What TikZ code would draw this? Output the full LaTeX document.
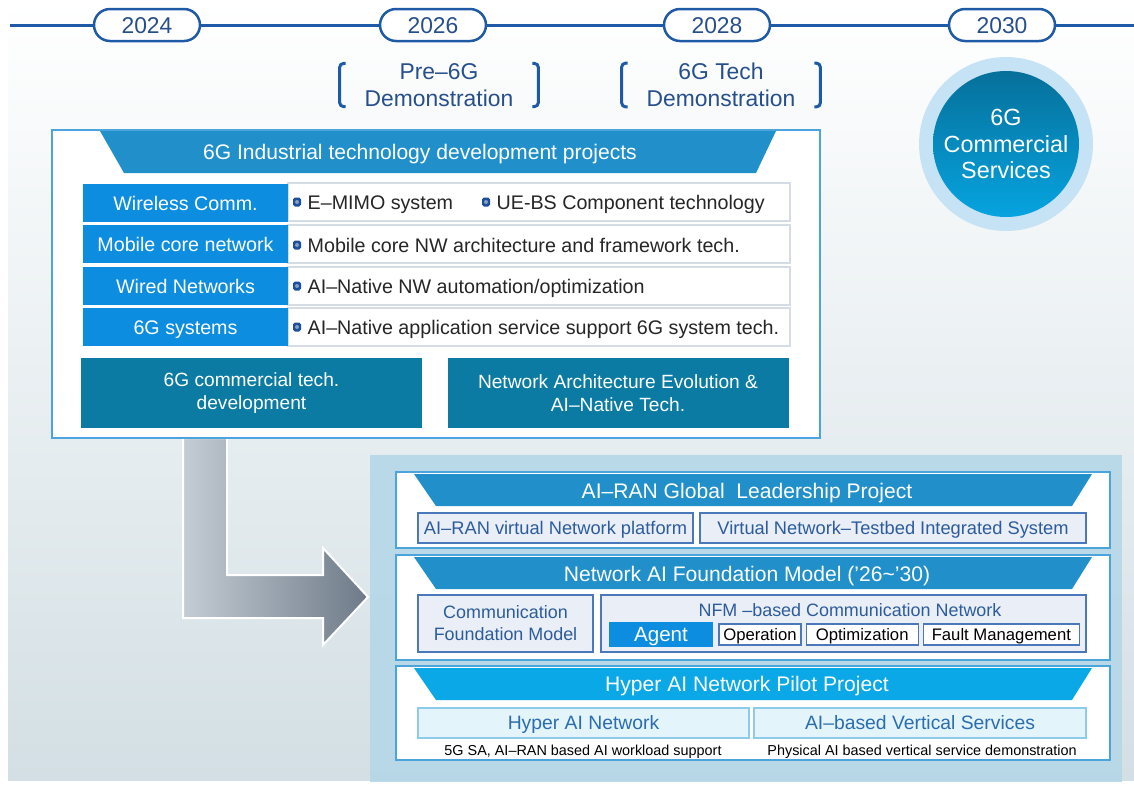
\documentclass[tikz,border=0pt]{standalone}
\usepackage{fontspec}
\setmainfont{Liberation Sans}
\usepackage{tikz}
\usetikzlibrary{positioning}
\definecolor{tlblue}{HTML}{1F5AA6}
\definecolor{yeartext}{HTML}{264F8C}
\definecolor{hdrblue}{HTML}{2190CA}
\definecolor{hdrcyan}{HTML}{0AA8E6}
\definecolor{lblblue}{HTML}{0C8DE0}
\definecolor{tealbox}{HTML}{0B7BA3}
\definecolor{panelline}{HTML}{4CA4DC}
\definecolor{subfill}{HTML}{E9EEF7}
\definecolor{subline}{HTML}{4A78BA}
\definecolor{subtext}{HTML}{2C5C9C}
\definecolor{hypfill}{HTML}{E3F4FB}
\definecolor{hypline}{HTML}{8CCBEA}
\definecolor{hyptext}{HTML}{2A6DB0}
\definecolor{bulblue}{HTML}{1D4F9C}
\definecolor{bgmid}{HTML}{EDF1F3}
\definecolor{bgbottom}{HTML}{D3DFE4}
\definecolor{lowbg}{HTML}{B5D7E8}
\definecolor{halo}{HTML}{C6E2F5}
\definecolor{svctop}{HTML}{06709A}
\definecolor{svcbot}{HTML}{06A4E0}
\definecolor{arrowl}{HTML}{C4CCD4}
\definecolor{arrowr}{HTML}{6E7A88}
\definecolor{cellline}{HTML}{D6DCE3}
\newdimen\px \px=0.2mm
\newcommand{\fsz}[2]{\fontsize{#1}{#2}\selectfont}

\begin{document}
\begin{tikzpicture}[x=0.2mm, y=-0.2mm,
    year/.style={draw=tlblue, line width=2.5\px, fill=white, rounded corners=16\px,
        minimum width=106\px, minimum height=32\px, inner sep=0pt, text=yeartext, font=\fsz{13}{15},
        text height=9.3pt, text depth=0pt},
    mile/.style={align=center, text=yeartext, font=\fsz{13}{15}, minimum width=198\px,
        minimum height=39\px, inner sep=0pt},
    brk/.style={tlblue, line width=3\px, rounded corners=4\px},
    tline/.style={tlblue, line width=3\px},
    panel/.style={draw=panelline, line width=2\px, fill=white, inner sep=0pt},
    hdr/.style={text=white, font=\fsz{12}{14}, inner sep=0pt, text height=8.6pt, text depth=0pt},
    lbl/.style={fill=lblblue, text=white, font=\fsz{11.2}{13}, minimum width=205\px,
        minimum height=38\px, inner sep=0pt, text height=8pt, text depth=0pt},
    cell/.style={draw=cellline, line width=1.5\px, fill=white, minimum width=502\px,
        minimum height=38\px, inner sep=0pt},
    bul/.style={fill=bulblue, rounded corners=1.8\px, minimum width=8\px, minimum height=9\px,
        inner sep=0pt, path picture={\fill[white!45!bulblue] (path picture bounding box.center) circle (2\px);}},
    item/.style={font=\fsz{11.2}{13}, text=black!85, inner sep=0pt, anchor=west,
        text height=8pt, text depth=0pt},
    teal/.style={fill=tealbox, text=white, align=center, font=\fsz{10.9}{13}, minimum width=341\px,
        minimum height=70\px, inner sep=0pt},
    box/.style={draw=panelline, line width=1.5\px, fill=white, minimum width=714\px, inner sep=0pt},
    sub/.style={draw=subline, line width=1.5\px, fill=subfill, text=subtext, inner sep=0pt,
        minimum height=30\px, font=\fsz{10.4}{12.5}, text height=7.45pt, text depth=0pt},
    hyp/.style={draw=hypline, line width=1.5\px, fill=hypfill, text=hyptext, inner sep=0pt,
        minimum height=30\px, font=\fsz{11}{13}, text height=7.9pt, text depth=0pt},
    tag/.style={draw=subline, line width=1.2\px, fill=white, text=black, inner sep=0pt,
        minimum height=21\px, font=\fsz{9.5}{11}, text height=6.8pt, text depth=0pt},
    capt/.style={font=\fsz{8.2}{10}, text=black, inner sep=0pt, text height=5.9pt, text depth=0pt}]

    \useasboundingbox (0,0) rectangle (1134,787);
    % background
    \fill[top color=white, middle color=bgmid, bottom color=bgbottom] (8,0) rectangle (1134,780);
    \fill[lowbg, opacity=0.9] (370,455) rectangle (1122,782);

    % timeline
    \coordinate (tl0) at (10,25);
    \coordinate (tl1) at (1134,25);
    \node[year] (y24) at (147,25) {2024};
    \node[year] (y26) at (433,25) {2026};
    \node[year] (y28) at (717,25) {2028};
    \node[year] (y30) at (1002,25) {2030};
    \draw[tline] (tl0) -- (y24) -- (y26) -- (y28) -- (y30) -- (tl1);

    % milestones
    \node[mile] (pre) at (439,85) {Pre–6G\\Demonstration};
    \node[mile] (tech) at (721,85) {6G Tech\\Demonstration};
    \foreach \m in {pre,tech} {
        \draw[brk] ([xshift=6\px]\m.north west) -- (\m.north west) -- (\m.south west) -- ([xshift=6\px]\m.south west);
        \draw[brk] ([xshift=-6\px]\m.north east) -- (\m.north east) -- (\m.south east) -- ([xshift=-6\px]\m.south east);
    }

    % 6G commercial services
    \node[circle, fill=halo, minimum size=174\px, inner sep=0pt] (halo) at (1006,144) {};
    \node[circle, top color=svctop, bottom color=svcbot, minimum size=146\px, inner sep=0pt,
        text=white, align=center, font=\fsz{13.3}{15.3}] (svc) at (1006,144) {6G\\Commercial\\Services};

    % arrow
    \path[draw=white, line width=2\px, left color=arrowl, right color=arrowr]
        (183,438) -- (227,438) -- (227,575) -- (323,575) -- (323,548) -- (368,597)
        -- (323,645) -- (323,618) -- (183,618) -- cycle;

    % industrial projects
    \node[panel, minimum width=768\px, minimum height=308\px] (ind) at (436,284) {};
    \fill[hdrblue] (100,131) -- (776,131) -- (756,173) -- (124,173) -- cycle;
    \node[hdr] (indh) at (420,152) {6G Industrial technology development projects};

    \node[cell] (c1) at (539,202) {};
    \node[lbl] (l1) at (185.5,203) {Wireless Comm.};
    \node[bul] (b1) at (297,202) {};
    \node[item, right=6\px of b1] (t1) {E–MIMO system};
    \node[bul] (b1b) at (486,202) {};
    \node[item, right=6\px of b1b] (t1b) {UE-BS Component technology};

    \node[cell] (c2) at (539,244) {};
    \node[lbl] (l2) at (185.5,244) {Mobile core network};
    \node[bul] (b2) at (297,245) {};
    \node[item, right=6\px of b2] (t2) {Mobile core NW architecture and framework tech.};

    \node[cell] (c3) at (539,286) {};
    \node[lbl] (l3) at (185.5,286) {Wired Networks};
    \node[bul] (b3) at (297,286) {};
    \node[item, right=6\px of b3] (t3) {AI–Native NW automation/optimization};

    \node[cell] (c4) at (539,327) {};
    \node[lbl] (l4) at (185.5,327) {6G systems};
    \node[bul] (b4) at (297,327) {};
    \node[item, right=6\px of b4] (t4) {AI–Native application service support 6G system tech.};

    \node[teal] (com) at (251.5,393) {6G commercial tech.\\development};
    \node[teal] (arch) at (618,393) {Network Architecture Evolution \&\\AI–Native Tech.};

    % AI-RAN global leadership
    \node[box, minimum height=76\px] (ran) at (753,510) {};
    \fill[hdrblue] (414,474) -- (1092,474) -- (1072,506) -- (436,506) -- cycle;
    \node[hdr] (ranh) at (747,491) {AI–RAN Global~ Leadership Project};
    \node[sub, minimum width=275\px] (vnp) at (555.5,528) {AI–RAN virtual Network platform};
    \node[sub, minimum width=386\px] (vts) at (893,528) {Virtual Network–Testbed Integrated System};

    % network AI foundation model
    \node[box, minimum height=105\px] (nfm) at (753,607.5) {};
    \fill[hdrblue] (414,557) -- (1092,557) -- (1072,589) -- (436,589) -- cycle;
    \node[hdr] (nfmh) at (747,574) {Network AI Foundation Model (’26\textasciitilde’30)};
    \node[sub, minimum width=175\px, minimum height=57\px, align=center, font=\fsz{10.2}{12.5},
        text height=, text depth=] (cfm) at (505.5,623.5) {Communication\\Foundation Model};
    \node[sub, minimum width=485\px, minimum height=57\px] (ncn) at (843.5,623.5) {};
    \node[text=subtext, font=\fsz{10.2}{12}, inner sep=0pt, text height=7.3pt, text depth=0pt]
        (ncnt) at (850,610) {NFM –based Communication Network};
    \node[fill=lblblue, text=white, font=\fsz{11.7}{13}, minimum width=104\px, minimum height=25\px,
        inner sep=0pt, text height=8.4pt, text depth=0pt] (agent) at (661,634.5) {Agent};
    \node[tag, minimum width=82\px, right=5\px of agent] (op) {Operation};
    \node[tag, minimum width=112\px, right=4\px of op] (opt) {Optimization};
    \node[tag, minimum width=156\px, right=4\px of opt] (fault) {Fault Management};

    % hyper AI network pilot
    \node[box, minimum height=94\px] (hyp) at (753,713) {};
    \fill[hdrcyan] (414,668) -- (1092,668) -- (1072,700) -- (436,700) -- cycle;
    \node[hdr] (hyph) at (747,684) {Hyper AI Network Pilot Project};
    \node[hyp, minimum width=331\px] (han) at (583.5,723) {Hyper AI Network};
    \node[hyp, minimum width=332\px] (avs) at (920,723) {AI–based Vertical Services};
    \node[capt] (hanc) at (583,750) {5G SA, AI–RAN based AI workload support};
    \node[capt] (avsc) at (922,750) {Physical AI based vertical service demonstration};
\end{tikzpicture}
\end{document}
